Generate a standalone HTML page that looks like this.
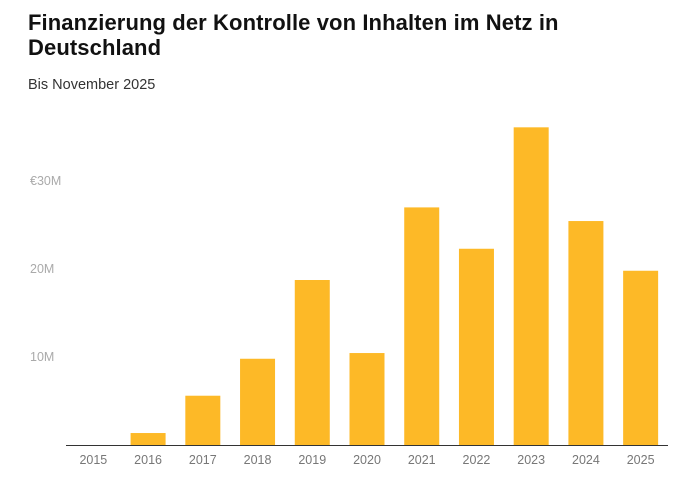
<!DOCTYPE html>
<html><head><meta charset="utf-8"><style>
body{margin:0;background:#fff;width:696px;height:488px;overflow:hidden;font-family:"Liberation Sans",Arial,sans-serif}
h1{position:absolute;left:28px;top:10px;margin:0;font-size:22px;line-height:25px;font-weight:bold;color:#111;letter-spacing:0.1px}
.sub{position:absolute;left:28px;top:77px;font-size:14.5px;color:#333}
</style></head><body>
<h1>Finanzierung der Kontrolle von Inhalten im Netz in<br>Deutschland</h1>
<div class="sub">Bis November 2025</div>
<svg id="c" width="696" height="488" style="position:absolute;left:0;top:0"></svg>
<script>
const categories=["2015","2016","2017","2018","2019","2020","2021","2022","2023","2024","2025"];
const values=[0,1.36,5.6,9.8,18.75,10.45,27.0,22.3,36.1,25.45,19.8];
const yTicks=[10,20,30];
const yTickLabels=["10M","20M","€30M"];
const svg=document.getElementById('c');const NS="http://www.w3.org/2000/svg";
const x0=66,x1=668,base=445,pxPer=8.8;
const band=(x1-x0)/categories.length;
const y=v=>base-v*pxPer;
const xc=i=>x0+band*(i+0.5);
function mk(t,a){const e=document.createElementNS(NS,t);for(const k in a)e.setAttribute(k,a[k]);svg.appendChild(e);return e;}
yTicks.forEach((t,i)=>{const e=mk('text',{x:30,y:y(t)+4,'font-size':12.5,fill:'#aaa','font-family':'Liberation Sans, sans-serif'});e.textContent=yTickLabels[i];

});
values.forEach((v,i)=>{const r=mk('rect',{x:xc(i)-17.5,y:y(v),width:35,height:base-y(v),fill:'#fdb927'});


const t=mk('text',{x:xc(i),y:464,'text-anchor':'middle','font-size':12.5,fill:'#777','font-family':'Liberation Sans, sans-serif'});t.textContent=categories[i];

});
const ax=mk('line',{x1:x0,x2:x1,y1:base+0.5,y2:base+0.5,stroke:'#333','stroke-width':1});


</script>
</body></html>
